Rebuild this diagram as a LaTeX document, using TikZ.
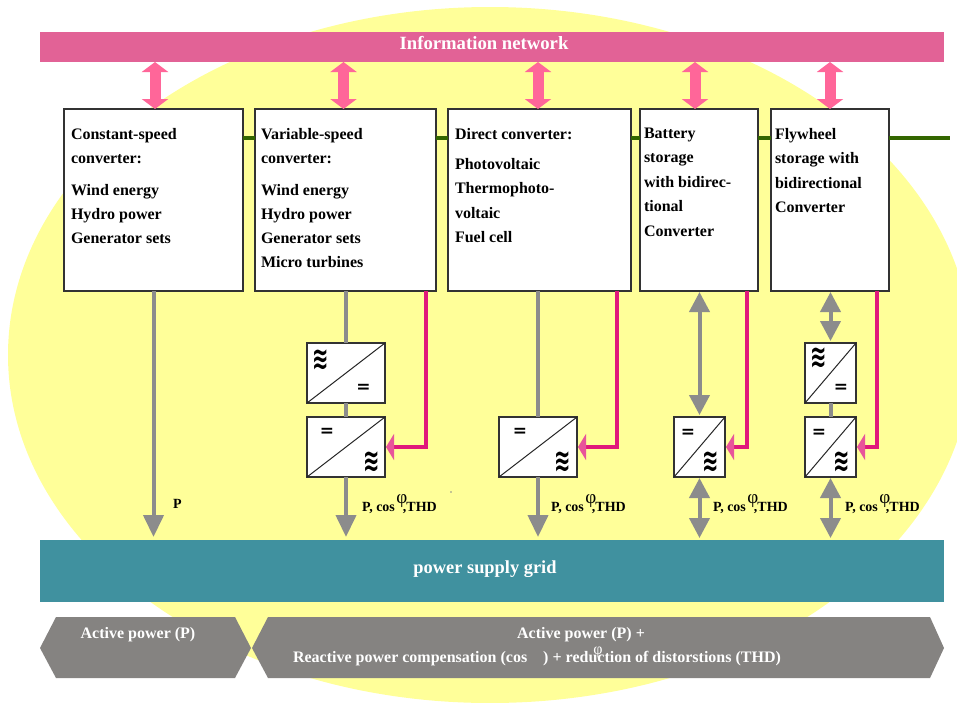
\documentclass[tikz,border=0pt]{standalone}
\usepackage{fontspec}
\usetikzlibrary{arrows.meta}
\setmainfont{Liberation Serif}
\newfontfamily\symf{DejaVu Sans}
\definecolor{ell}{HTML}{FFFF99}
\definecolor{infob}{HTML}{E26296}
\definecolor{infoa}{HTML}{FF6699}
\definecolor{gridc}{HTML}{40919F}
\definecolor{hexc}{HTML}{858381}
\definecolor{grayl}{HTML}{8C8C8C}
\definecolor{magl}{HTML}{E0197B}
\definecolor{magh}{HTML}{E8559A}
\definecolor{greenl}{HTML}{336600}
\definecolor{edge}{HTML}{333333}
\newcommand{\wv}{\scalebox{1.15}[1.85]{\symf\bfseries ≋}}
\newcommand{\eqq}{{\symf\bfseries =}}
\newcommand{\plab}{P, cos\hspace{8pt}\rlap{\hspace{-6.5pt}\raisebox{8pt}{\fontsize{19}{19}\selectfont\mdseries φ}},THD}
\tikzset{
  x=1pt,y=-1pt,
  every node/.style={inner sep=0pt,outer sep=0pt},
  srcbox/.style={draw=edge,line width=1.4pt,fill=white,anchor=north west},
  conv/.style={draw=edge,line width=1.4pt,fill=white,anchor=north west},
  diag/.style={draw=black!85,line width=1pt},
  boxtext/.style={anchor=north west,align=left,font=\fontsize{16}{24}\selectfont\bfseries},
  boxtextb/.style={anchor=north west,align=left,font=\fontsize{16}{24.5}\selectfont\bfseries},
  lab/.style={anchor=west,font=\fontsize{14}{16}\selectfont\bfseries},
  sym/.style={font=\fontsize{17}{17}\selectfont\bfseries},
  infoarrow/.style={draw=infoa,line width=11pt,{Triangle[length=10pt,width=26pt,fill=infoa]}-{Triangle[length=10pt,width=26pt,fill=infoa]}},
  gline/.style={draw=grayl,line width=4pt},
  garrow/.style={gline,-{Triangle[length=22pt,width=20pt]},shorten >=3pt},
  gdouble/.style={gline,{Triangle[length=20pt,width=20pt]}-{Triangle[length=20pt,width=20pt]},shorten >=2pt,shorten <=1pt},
  marrow/.style={draw=magl,line width=4pt,-{Triangle[length=8pt,width=26pt,color=magh,fill=magh]},shorten >=1pt},
  greenline/.style={draw=greenl,line width=4pt},
  hexa/.style={fill=hexc},
  whitetext/.style={text=white,font=\fontsize{16}{18}\selectfont\bfseries}
}
\begin{document}
\begin{tikzpicture}
\useasboundingbox (0,0) rectangle (957,702);
\fill[ell] (490,355) ellipse [x radius=482pt,y radius=348pt];
\path[use as bounding box] (0,0) rectangle (957,702);

% bars
\node[fill=infob,minimum width=904pt,minimum height=30pt,anchor=north west] (info) at (40,32) {};
\node[text=white,font=\fontsize{18.7}{20}\selectfont\bfseries] (infot) at (484,43) {Information network};
\node[fill=gridc,minimum width=904pt,minimum height=62pt,anchor=north west] (grid) at (40,540) {};
\node[text=white,font=\fontsize{18.4}{20}\selectfont\bfseries] (gridt) at (485,569) {power supply grid};

% source boxes
\node[srcbox,minimum width=179pt,minimum height=182pt] (b1) at (64,109) {};
\node[srcbox,minimum width=181pt,minimum height=182pt] (b2) at (255,109) {};
\node[srcbox,minimum width=183pt,minimum height=182pt] (b3) at (448,109) {};
\node[srcbox,minimum width=118pt,minimum height=182pt] (b4) at (640,109) {};
\node[srcbox,minimum width=118pt,minimum height=182pt] (b5) at (771,109) {};
\coordinate (gend) at (950,138);

% green bus
\draw[greenline] ([yshift=-29pt]b1.north east) -- ([yshift=-29pt]b2.north west);
\draw[greenline] ([yshift=-29pt]b2.north east) -- ([yshift=-29pt]b3.north west);
\draw[greenline] ([yshift=-29pt]b3.north east) -- ([yshift=-29pt]b4.north west);
\draw[greenline] ([yshift=-29pt]b4.north east) -- ([yshift=-29pt]b5.north west);
\draw[greenline] ([yshift=-29pt]b5.north east) -- (gend);

% box texts
\node[boxtext] (t1) at (71,128) {Constant-speed\\converter:\\[8pt]Wind energy\\Hydro power\\Generator sets};
\node[boxtext] (t2) at (261,128) {Variable-speed\\converter:\\[8pt]Wind energy\\Hydro power\\Generator sets\\Micro turbines};
\node[boxtextb] (t3) at (455,128) {Direct converter:\\[5.5pt]Photovoltaic\\Thermophoto-\\voltaic\\Fuel cell};
\node[boxtextb] (t4) at (644,128) {Battery\\storage\\with bidirec-\\tional\\Converter};
\node[boxtextb] (t5) at (775,128) {Flywheel\\storage with\\bidirectional\\Converter};

% converters
\node[conv,minimum width=78pt,minimum height=60pt] (c2a) at (307,343) {};
\node[conv,minimum width=78pt,minimum height=60pt] (c2b) at (307,417) {};
\node[conv,minimum width=78pt,minimum height=60pt] (c3) at (499,417) {};
\node[conv,minimum width=51pt,minimum height=60pt] (c4) at (674,417) {};
\node[conv,minimum width=51pt,minimum height=60pt] (c5a) at (805,343) {};
\node[conv,minimum width=51pt,minimum height=60pt] (c5b) at (805,417) {};
\foreach \n in {c2a,c2b,c3,c4,c5a,c5b}{\draw[diag] (\n.south west) -- (\n.north east);}

% converter symbols
\node[sym] (s1) at (320.5,360) {\wv};
\node[sym] (s2) at (363.5,388) {\eqq};
\node[sym] (s3) at (327,432) {\eqq};
\node[sym] (s4) at (372,462) {\wv};
\node[sym] (s5) at (520,432) {\eqq};
\node[sym] (s6) at (563,462) {\wv};
\node[sym] (s7) at (688,433) {\eqq};
\node[sym] (s8) at (711,462) {\wv};
\node[sym] (s9) at (819,358) {\wv};
\node[sym] (s10) at (841,388) {\eqq};
\node[sym] (s11) at (819,433) {\eqq};
\node[sym] (s12) at (842,462) {\wv};

% info arrows
\draw[infoarrow] ([xshift=1.5pt]b1.north |- info.south) -- ([xshift=1.5pt]b1.north);
\draw[infoarrow] ([xshift=-2pt]b2.north |- info.south) -- ([xshift=-2pt]b2.north);
\draw[infoarrow] ([xshift=-1.5pt]b3.north |- info.south) -- ([xshift=-1.5pt]b3.north);
\draw[infoarrow] ([xshift=-4pt]b4.north |- info.south) -- ([xshift=-4pt]b4.north);
\draw[infoarrow] (b5.north |- info.south) -- (b5.north);

% gray
\draw[garrow] (b1.south) -- (b1.south |- grid.north);
\draw[gline] (c2a.north |- b2.south) -- (c2a.north);
\draw[gline] (c2a.south) -- (c2b.north);
\draw[garrow] (c2b.south) -- (c2b.south |- grid.north);
\draw[gline] (c3.north) -- (c3.north |- b3.south);
\draw[garrow] (c3.south) -- (c3.south |- grid.north);
\draw[gdouble] (c4.north |- b4.south) -- (c4.north);
\draw[gdouble] (c4.south) -- (c4.south |- grid.north);
\draw[gdouble] (c5a.north |- b5.south) -- (c5a.north);
\draw[gline] (c5a.south) -- (c5b.north);
\draw[gdouble] (c5b.south) -- (c5b.south |- grid.north);

% magenta
\draw[marrow] ([xshift=-10pt]b2.south east) |- (c2b.east);
\draw[marrow] ([xshift=-14pt]b3.south east) |- (c3.east);
\draw[marrow] ([xshift=-11pt]b4.south east) |- (c4.east);
\draw[marrow] ([xshift=-12pt]b5.south east) |- (c5b.east);

% labels
\node[lab] (l1) at (173,504) {P};
\node[lab] (l2) at (362,504) {\plab};
\node[lab] (l3) at (551,504) {\plab};
\node[lab] (l4) at (713,504) {\plab};
\node[lab] (l5) at (845,504) {\plab};
\fill[grayl] (451,492) circle (0.8pt);

% bottom hexagons
\fill[hexa] (40,648) -- (56,617) -- (235,617) -- (251,648) -- (235,678) -- (56,678) -- cycle;
\fill[hexa] (252,648) -- (268,617) -- (930,617) -- (944,648) -- (930,678) -- (268,678) -- cycle;
\node[whitetext] (h1) at (138,635) {Active power (P)};
\node[whitetext] (h2) at (581,635) {Active power (P) +};
\node[whitetext] (h3) at (537,659) {Reactive power compensation (cos\hspace{16pt}) + reduction of distorstions (THD)};
\node[text=white,font=\fontsize{16}{16}\selectfont] (h4) at (598,652) {φ};
\end{tikzpicture}
\end{document}
